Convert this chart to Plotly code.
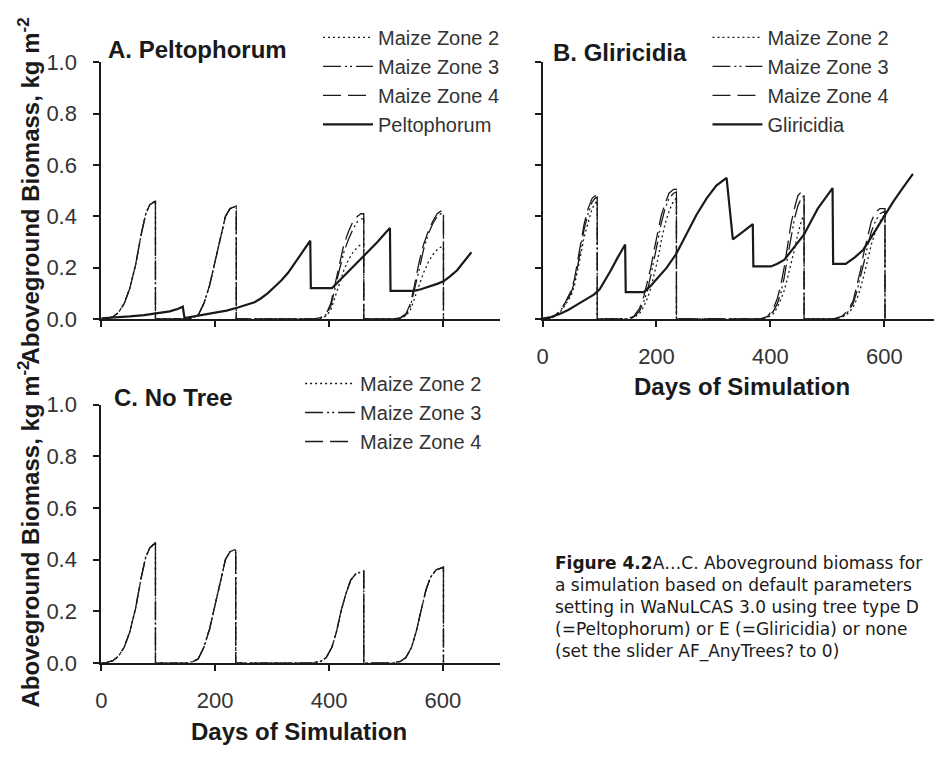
import plotly.graph_objects as go

# ---------------- DATA ----------------
# Panel A: Peltophorum
a_days = [0, 10, 20, 30, 40, 50, 60, 70, 78, 85, 95, 95,
          150, 160, 170, 180, 190, 200, 210, 218, 226, 237, 237,
          372, 385, 395, 403, 410, 418, 426, 434, 442, 450, 456, 461, 461,
          512, 525, 535, 543, 550, 558, 566, 574, 582, 590, 596, 601, 601]
a_zone4 = [0, 0.002, 0.008, 0.025, 0.06, 0.12, 0.21, 0.33, 0.41, 0.445, 0.46, 0,
           0, 0.004, 0.015, 0.06, 0.13, 0.23, 0.33, 0.40, 0.43, 0.44, 0,
           0, 0.005, 0.02, 0.06, 0.13, 0.22, 0.29, 0.34, 0.38, 0.40, 0.41, 0.41, 0,
           0, 0.005, 0.02, 0.06, 0.13, 0.22, 0.29, 0.34, 0.38, 0.41, 0.42, 0.42, 0]
a_zone3 = [0, 0.002, 0.008, 0.025, 0.06, 0.12, 0.21, 0.33, 0.41, 0.445, 0.46, 0,
           0, 0.004, 0.015, 0.06, 0.13, 0.23, 0.33, 0.40, 0.43, 0.44, 0,
           0, 0.004, 0.017, 0.05, 0.11, 0.19, 0.26, 0.31, 0.35, 0.38, 0.39, 0.39, 0,
           0, 0.004, 0.017, 0.05, 0.11, 0.19, 0.27, 0.33, 0.37, 0.40, 0.41, 0.41, 0]
a_zone2 = [0, 0.002, 0.008, 0.025, 0.06, 0.12, 0.21, 0.33, 0.41, 0.445, 0.46, 0,
           0, 0.004, 0.015, 0.06, 0.13, 0.23, 0.33, 0.40, 0.43, 0.44, 0,
           0, 0.003, 0.012, 0.035, 0.08, 0.14, 0.19, 0.23, 0.26, 0.28, 0.29, 0.29, 0,
           0, 0.003, 0.012, 0.035, 0.08, 0.13, 0.18, 0.22, 0.25, 0.27, 0.28, 0.28, 0]
pelto_days = [0, 25, 50, 75, 100, 120, 135, 143, 146, 160,
              180, 200, 220, 240, 255, 269, 280, 292, 304, 316,
              328, 339, 350, 360, 367, 368, 405, 414, 425, 440,
              455, 470, 485, 497, 507, 508, 548, 560, 575, 590,
              601, 612, 625, 638, 650]
pelto_vals = [0.003, 0.006, 0.01, 0.015, 0.022, 0.03, 0.04, 0.048, 0.004, 0.01,
              0.018, 0.025, 0.033, 0.045, 0.055, 0.065, 0.08, 0.10, 0.125, 0.15,
              0.18, 0.215, 0.25, 0.285, 0.305, 0.12, 0.12, 0.14, 0.165, 0.195,
              0.23, 0.265, 0.30, 0.33, 0.355, 0.11, 0.11, 0.115, 0.125, 0.137,
              0.147, 0.165, 0.19, 0.225, 0.26]

# Panel B: Gliricidia
b_days = [0, 10, 20, 30, 40, 50, 56, 62, 68, 73, 80, 87, 92, 96, 96,
          148, 160, 170, 178, 184, 190, 196, 202, 208, 215, 222, 230, 235, 235,
          382, 395, 405, 412, 418, 424, 430, 436, 442, 448, 454, 459, 459,
          510, 525, 535, 545, 552, 558, 564, 570, 577, 584, 592, 601, 601]
b_zone4 = [0, 0.003, 0.01, 0.03, 0.065, 0.11, 0.155, 0.23, 0.31, 0.37, 0.43, 0.47, 0.48, 0.48, 0,
           0, 0.01, 0.04, 0.09, 0.14, 0.20, 0.27, 0.34, 0.40, 0.45, 0.49, 0.505, 0.505, 0,
           0, 0.01, 0.04, 0.08, 0.13, 0.20, 0.29, 0.37, 0.43, 0.48, 0.495, 0.495, 0,
           0, 0.01, 0.03, 0.07, 0.13, 0.19, 0.26, 0.32, 0.38, 0.415, 0.43, 0.43, 0]
b_zone3 = [0, 0.003, 0.01, 0.028, 0.06, 0.10, 0.145, 0.21, 0.29, 0.35, 0.41, 0.455, 0.47, 0.475, 0,
           0, 0.008, 0.03, 0.07, 0.11, 0.17, 0.23, 0.30, 0.37, 0.43, 0.47, 0.49, 0.495, 0,
           0, 0.008, 0.03, 0.06, 0.10, 0.16, 0.24, 0.32, 0.39, 0.44, 0.47, 0.48, 0,
           0, 0.008, 0.025, 0.06, 0.11, 0.16, 0.22, 0.28, 0.34, 0.38, 0.41, 0.42, 0]
b_zone2 = [0, 0.003, 0.009, 0.025, 0.055, 0.09, 0.13, 0.19, 0.26, 0.32, 0.38, 0.43, 0.45, 0.46, 0,
           0, 0.006, 0.02, 0.05, 0.08, 0.12, 0.17, 0.23, 0.30, 0.37, 0.42, 0.46, 0.47, 0,
           0, 0.006, 0.02, 0.045, 0.075, 0.11, 0.16, 0.21, 0.27, 0.33, 0.38, 0.41, 0,
           0, 0.006, 0.02, 0.045, 0.08, 0.12, 0.17, 0.23, 0.29, 0.34, 0.38, 0.41, 0]
glir_days = [0, 15, 30, 45, 60, 75, 90, 100, 110, 120,
             132, 145, 146, 178, 190, 200, 218, 235, 252, 270,
             288, 305, 323, 334, 352, 369, 370, 401, 412, 424,
             440, 459, 471, 483, 496, 509, 510, 532, 548, 563,
             580, 598, 615, 632, 650]
glir_vals = [0.002, 0.008, 0.02, 0.035, 0.055, 0.075, 0.095, 0.115, 0.15, 0.19,
             0.24, 0.29, 0.105, 0.105, 0.13, 0.155, 0.20, 0.255, 0.33, 0.405,
             0.47, 0.52, 0.55, 0.31, 0.34, 0.37, 0.205, 0.205, 0.215, 0.23,
             0.275, 0.33, 0.38, 0.43, 0.47, 0.51, 0.215, 0.215, 0.24, 0.27,
             0.33, 0.395, 0.455, 0.51, 0.565]

# Panel C: No tree (all zones coincide)
c_days = [0, 10, 20, 30, 40, 50, 60, 70, 78, 85, 95, 95,
          150, 160, 170, 180, 190, 200, 210, 218, 226, 236, 236,
          372, 385, 395, 405, 413, 421, 430, 438, 447, 461, 461,
          512, 525, 535, 545, 553, 561, 570, 578, 588, 601, 601]
c_maize = [0, 0.002, 0.008, 0.025, 0.06, 0.12, 0.21, 0.33, 0.41, 0.445, 0.465, 0,
           0, 0.004, 0.015, 0.06, 0.13, 0.23, 0.33, 0.40, 0.43, 0.44, 0,
           0, 0.005, 0.02, 0.06, 0.12, 0.20, 0.27, 0.32, 0.345, 0.355, 0,
           0, 0.005, 0.02, 0.06, 0.12, 0.20, 0.28, 0.33, 0.36, 0.37, 0]

x_ticks = [0, 200, 400, 600]
y_ticks = [0.0, 0.2, 0.4, 0.6, 0.8, 1.0]
y_ticklabels = ["0.0", "0.2", "0.4", "0.6", "0.8", "1.0"]
zone_names = ["Maize Zone 2", "Maize Zone 3", "Maize Zone 4"]

# ---------------- STYLE ----------------
W, H = 934, 758
FONT = "Liberation Sans, Arial, sans-serif"
INK = "#1a1a1a"
DASH_Z2 = "2px,3px"
DASH_Z3 = "18px,4px,2px,3px,2px,4px"
DASH_Z4 = "18px,7px"

fig = go.Figure()

def add_zone_traces(days, z2, z3, z4, xa, ya, leg):
    for name, vals, dash in zip(zone_names, [z2, z3, z4], [DASH_Z2, DASH_Z3, DASH_Z4]):
        fig.add_trace(go.Scatter(x=days, y=vals, mode="lines", name=name,
                                 line=dict(color=INK, width=1.3, dash=dash),
                                 xaxis=xa, yaxis=ya, legend=leg, hoverinfo="skip"))

add_zone_traces(a_days, a_zone2, a_zone3, a_zone4, "x", "y", "legend")
fig.add_trace(go.Scatter(x=pelto_days, y=pelto_vals, mode="lines", name="Peltophorum",
                         line=dict(color=INK, width=2.2), xaxis="x", yaxis="y", legend="legend",
                         hoverinfo="skip"))
add_zone_traces(b_days, b_zone2, b_zone3, b_zone4, "x2", "y2", "legend2")
fig.add_trace(go.Scatter(x=glir_days, y=glir_vals, mode="lines", name="Gliricidia",
                         line=dict(color=INK, width=2.2), xaxis="x2", yaxis="y2", legend="legend2",
                         hoverinfo="skip"))
add_zone_traces(c_days, c_maize, c_maize, c_maize, "x3", "y3", "legend3")

def px_x(p):
    return p / W

def px_y(p):
    return 1 - p / H

axis_common = dict(showline=True, linecolor=INK, linewidth=2, ticks="outside",
                   ticklen=6, tickwidth=2, tickcolor=INK, showgrid=False, zeroline=False,
                   tickfont=dict(family=FONT, size=22, color="#333333"))

xa_dom = [px_x(96), px_x(497)]
xb_dom = [px_x(540), 1.0]
yab_dom = [px_y(317.5), px_y(52)]
yc_dom = [px_y(673), px_y(406)]

leg_font = dict(family=FONT, size=20, color="#333333")
legend_common = dict(xanchor="left", yanchor="top", font=leg_font, itemwidth=50,
                     bgcolor="rgba(0,0,0,0)", tracegroupgap=0, itemclick=False,
                     itemdoubleclick=False)
fig.update_layout(
    width=W, height=H, autosize=False,
    margin=dict(l=0, r=0, t=0, b=0),
    paper_bgcolor="white", plot_bgcolor="white",
    font=dict(family=FONT, color=INK),
    xaxis=dict(domain=xa_dom, range=[0, 700], anchor="y", tickvals=x_ticks,
               showticklabels=False, **axis_common),
    yaxis=dict(domain=yab_dom, range=[0, 1.0], anchor="x", tickvals=y_ticks,
               ticktext=y_ticklabels, ticklabelstandoff=12, **axis_common),
    xaxis2=dict(domain=xb_dom, range=[0, 687], anchor="y2", tickvals=x_ticks,
                ticklabelstandoff=11, **axis_common),
    yaxis2=dict(domain=yab_dom, range=[0, 1.0], anchor="x2", tickvals=y_ticks,
                showticklabels=False, **axis_common),
    xaxis3=dict(domain=xa_dom, range=[0, 700], anchor="y3", tickvals=x_ticks,
                ticklabelstandoff=11, **axis_common),
    yaxis3=dict(domain=yc_dom, range=[0, 1.0], anchor="x3", tickvals=y_ticks,
                ticktext=y_ticklabels, ticklabelstandoff=12, **axis_common),
    legend=dict(x=px_x(314), y=px_y(6), **legend_common),
    legend2=dict(x=px_x(706), y=px_y(6), **legend_common),
    legend3=dict(x=px_x(296), y=px_y(364), **legend_common),
    showlegend=True,
    hovermode=False,
)

title_font = dict(family=FONT, size=24, color=INK)
ann = []
ann.append(dict(text="<b>A. Peltophorum</b>", x=px_x(101), y=px_y(39), xref="paper", yref="paper",
                xanchor="left", yanchor="middle", showarrow=False, font=title_font))
ann.append(dict(text="<b>B. Gliricidia</b>", x=px_x(549), y=px_y(42), xref="paper", yref="paper",
                xanchor="left", yanchor="middle", showarrow=False, font=title_font))
ann.append(dict(text="<b>C. No Tree</b>", x=px_x(107), y=px_y(399), xref="paper", yref="paper",
                xanchor="left", yanchor="middle", showarrow=False, font=title_font))
ytitle = "<b>Aboveground Biomass, kg m<sup>-2</sup></b>"
ann.append(dict(text=ytitle, x=px_x(23), y=(yab_dom[0] + yab_dom[1]) / 2, xref="paper", yref="paper",
                xanchor="center", yanchor="middle", textangle=-90, showarrow=False, font=title_font))
ann.append(dict(text=ytitle, x=px_x(23), y=(yc_dom[0] + yc_dom[1]) / 2, xref="paper", yref="paper",
                xanchor="center", yanchor="middle", textangle=-90, showarrow=False, font=title_font))
ann.append(dict(text="<b>Days of Simulation</b>", x=px_x(741), y=px_y(387), xref="paper", yref="paper",
                xanchor="center", yanchor="middle", showarrow=False, font=title_font))
ann.append(dict(text="<b>Days of Simulation</b>", x=px_x(295), y=px_y(744), xref="paper", yref="paper",
                xanchor="center", yanchor="middle", showarrow=False, font=title_font))
caption = ("<b>Figure 4.2</b>A…C. Aboveground biomass for<br>"
           "a simulation based on default parameters<br>"
           "setting in WaNuLCAS 3.0 using tree type D<br>"
           "(=Peltophorum) or E (=Gliricidia) or none<br>"
           "(set the slider AF_AnyTrees? to 0)")
ann.append(dict(text=caption, x=px_x(551), y=px_y(557), xref="paper", yref="paper",
                xanchor="left", yanchor="top", align="left", showarrow=False,
                font=dict(family="DejaVu Sans, sans-serif", size=17, color=INK)))
fig.update_layout(annotations=ann)

fig.write_html("out.html", config={"displayModeBar": False, "staticPlot": True},
               post_script="document.body.style.margin='0';")
